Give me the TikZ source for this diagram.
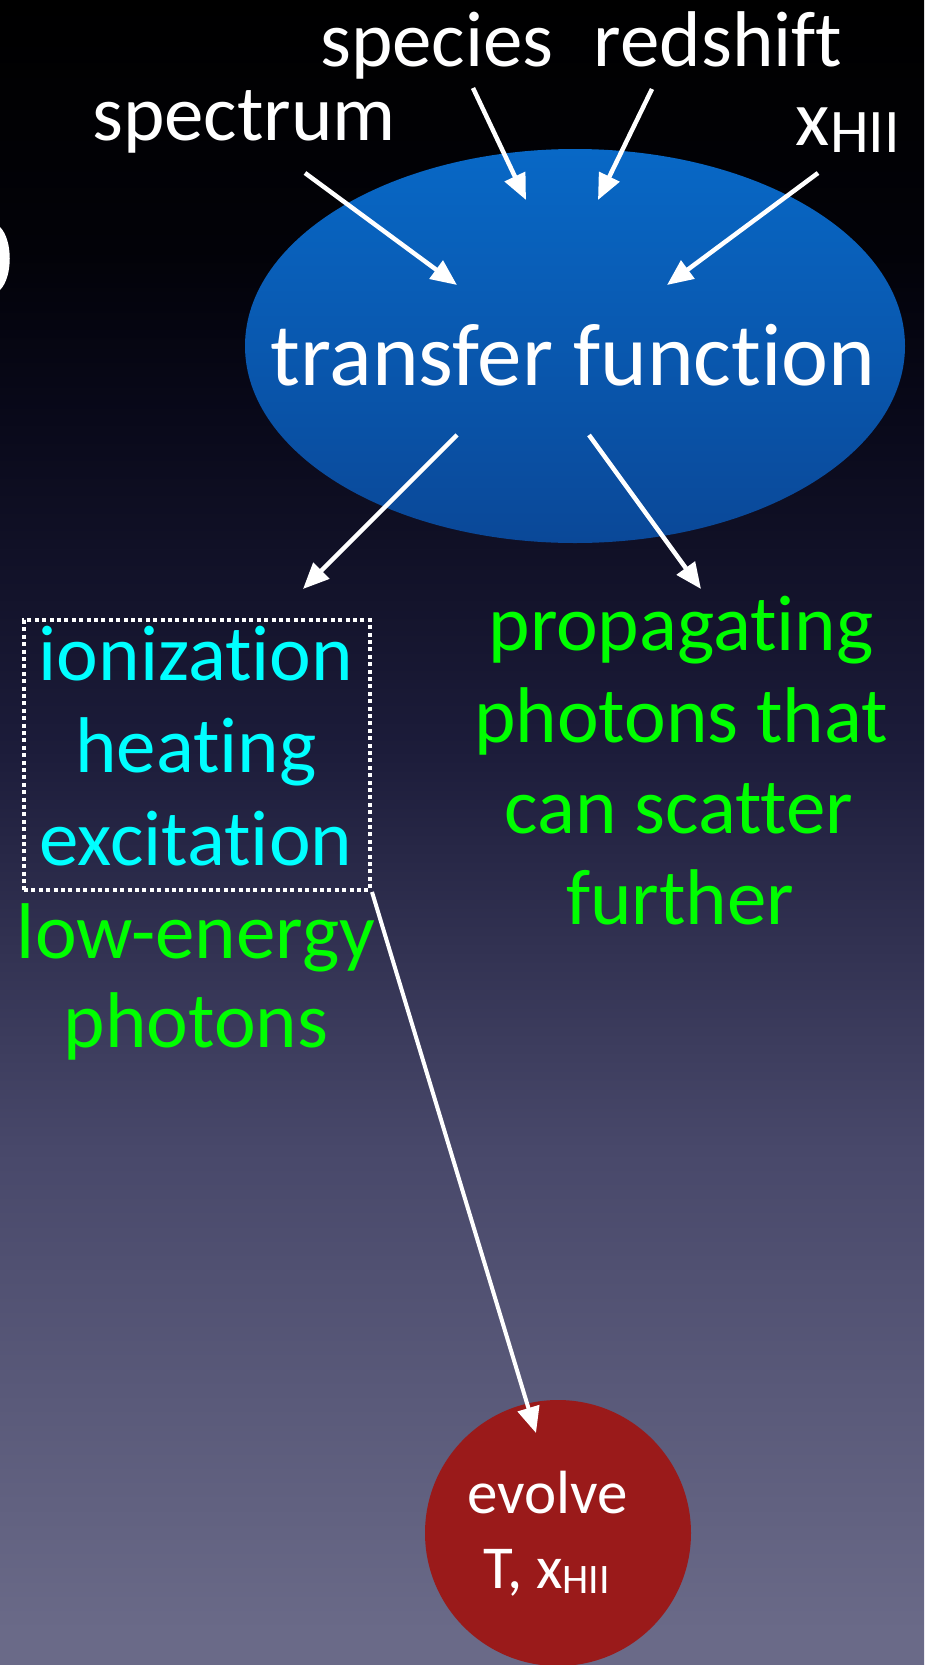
\documentclass[tikz,border=0pt]{standalone}
\usepackage{fontspec}
\setmainfont{Carlito}[Ligatures=NoCommon]
\usetikzlibrary{shapes.geometric,arrows.meta}
\definecolor{bgA}{HTML}{000000}
\definecolor{bgB}{HTML}{020208}
\definecolor{bgC}{HTML}{080818}
\definecolor{bgD}{HTML}{1C1C3A}
\definecolor{bgE}{HTML}{48486A}
\definecolor{bgF}{HTML}{6A6A88}
\definecolor{tfTop}{HTML}{0868C6}
\definecolor{tfBot}{HTML}{0A4898}
\definecolor{evRed}{HTML}{9A1A1A}
\definecolor{cyanC}{HTML}{00FFFF}
\definecolor{greenC}{HTML}{00FF00}
\pgfdeclareverticalshading{bgshade}{100bp}{color(0bp)=(bgF); color(25bp)=(bgF); color(26bp)=(bgF); color(40.5bp)=(bgE); color(52.5bp)=(bgD); color(63bp)=(bgC); color(67.5bp)=(bgB); color(75bp)=(bgA); color(100bp)=(bgA)}
\newcommand{\hii}[2]{x\raisebox{-#2pt}{\fontsize{#1}{#1}\selectfont HII}}
\tikzset{
  lbl/.style={text=white, font=\fontsize{79}{90}\selectfont, anchor=base, inner sep=0pt},
  biglbl/.style={text=white, font=\fontsize{89}{100}\selectfont, anchor=base, inner sep=0pt},
  cyanlbl/.style={text=cyanC, font=\fontsize{79}{92}\selectfont, anchor=base, inner sep=0pt},
  greenlbl/.style={text=greenC, font=\fontsize{79}{92}\selectfont, anchor=base, inner sep=0pt},
  evlbl/.style={text=white, font=\fontsize{61}{70}\selectfont, anchor=base, inner sep=0pt},
  arr/.style={draw=white, line width=4.5pt, -{Triangle[length=26pt,width=22pt]}},
  dotbox/.style={draw=white, line width=4pt, dash pattern=on 4pt off 3.4pt, rectangle, inner sep=0pt},
}
\begin{document}
\begin{tikzpicture}[x=1pt,y=-1pt]
\useasboundingbox (0,0) rectangle (924,1665);
\shade[shading=bgshade] (0,0) rectangle (924,1665);
% cut-off glyph at left edge
\fill[white] (0,227) .. controls (13,240) and (13,277) .. (0,290) -- cycle;
% transfer function ellipse
\node[ellipse, minimum width=660pt, minimum height=394pt, inner sep=0pt, top color=tfTop, bottom color=tfBot, draw=none] (tf) at (575,346) {};
\node[biglbl] (tftext) at (573,385) {transfer function};
% inputs
\node[lbl] (spectrum) at (244,140) {spectrum};
\node[lbl] (species) at (437,66) {species};
\node[lbl] (redshift) at (718,66) {redshift};
\node[lbl] (xhii) at (848,145) {\hii{62}{7}};
\coordinate (spS) at (305,173); \coordinate (spE) at (457,285);
\coordinate (seS) at (473,88);  \coordinate (seE) at (526,200);
\coordinate (reS) at (652,89);  \coordinate (reE) at (598,200);
\coordinate (xhS) at (818,173); \coordinate (xhE) at (667,285);
\draw[arr] (spS) -- (spE);
\draw[arr] (seS) -- (seE);
\draw[arr] (reS) -- (reE);
\draw[arr] (xhS) -- (xhE);
% outputs
\coordinate (oLS) at (457,435); \coordinate (oLE) at (303,589);
\coordinate (oRS) at (589,435); \coordinate (oRE) at (701,589);
\draw[arr] (oLS) -- (oLE);
\draw[arr] (oRS) -- (oRE);
% dotted box
\node[dotbox, minimum width=346pt, minimum height=270pt] (dbox) at (197,755) {};
\node[cyanlbl] (ion) at (196,680) {ionization};
\node[cyanlbl] (heat) at (196,772) {heating};
\node[cyanlbl] (exc) at (196,865) {excitation};
\node[greenlbl] (low1) at (196,958) {low-energy};
\node[greenlbl] (low2) at (196,1047) {photons};
\node[greenlbl] (pr1) at (681,650) {propagating};
\node[greenlbl] (pr2) at (681,742) {photons that};
\node[greenlbl] (pr3) at (679,833) {can scatter};
\node[greenlbl] (pr4) at (680,924) {further};
% evolve circle
\node[circle, minimum size=266pt, inner sep=0pt, fill=evRed] (ev) at (558,1533) {};
\node[evlbl] (ev1) at (548,1513) {evolve};
\node[evlbl] (ev2) at (547,1588) {T, \hii{42}{5}};
\coordinate (lgE) at (536,1433);
\draw[arr, line width=4pt] (dbox.south east) -- (lgE);
\end{tikzpicture}
\end{document}
